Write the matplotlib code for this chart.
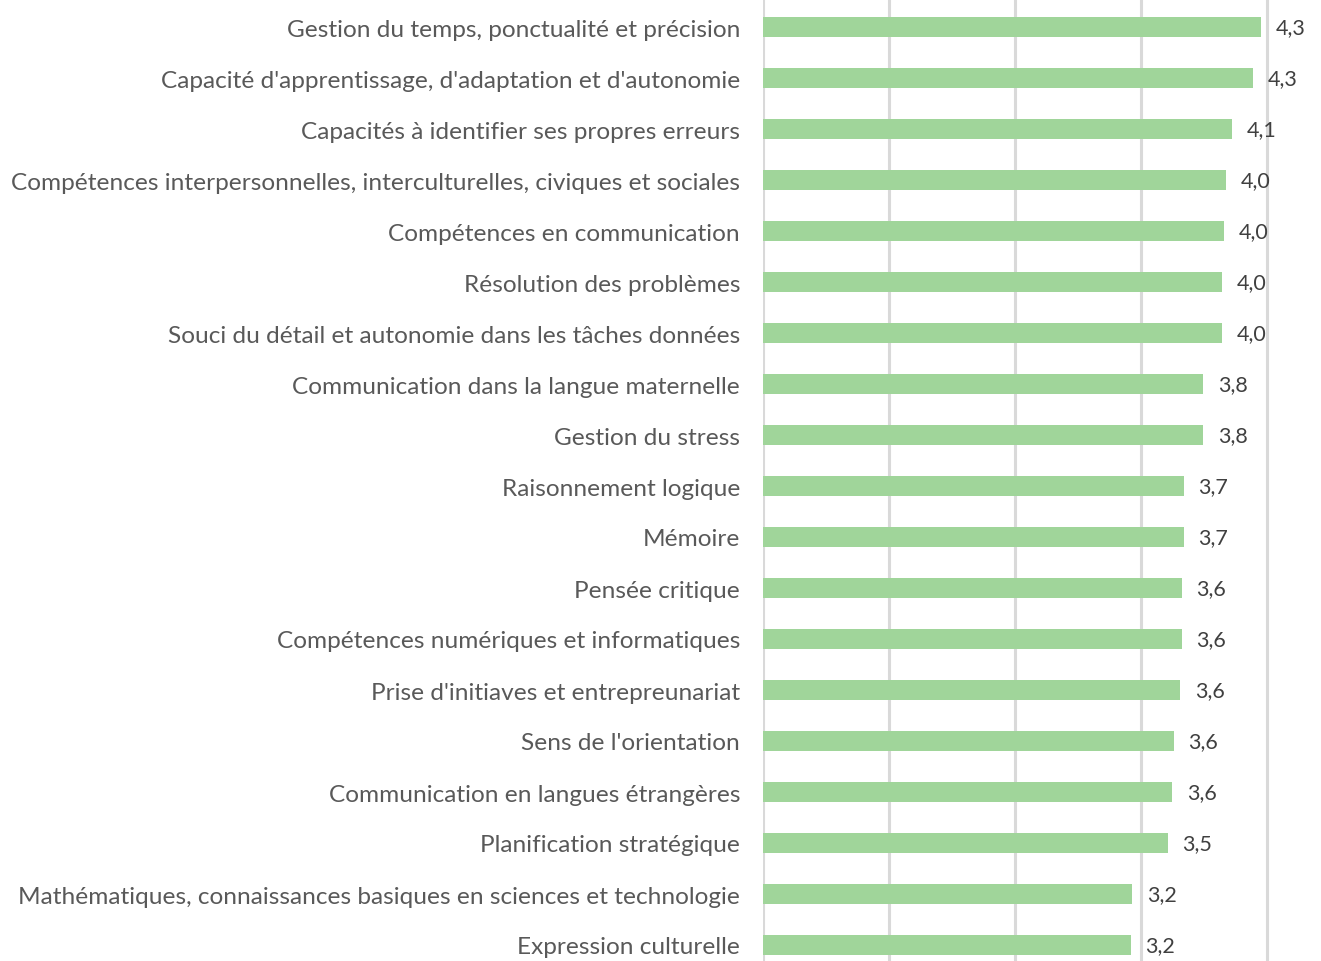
import matplotlib
matplotlib.use("Agg")
import matplotlib.pyplot as plt
import numpy as np

# data (bar lengths, labels shown rounded to 1 decimal)
categories = [
    "Gestion du temps, ponctualité et précision",
    "Capacité d'apprentissage, d'adaptation et d'autonomie",
    "Capacités à identifier ses propres erreurs",
    "Compétences interpersonnelles, interculturelles, civiques et sociales",
    "Compétences en communication",
    "Résolution des problèmes",
    "Souci du détail et autonomie dans les tâches données",
    "Communication dans la langue maternelle",
    "Gestion du stress",
    "Raisonnement logique",
    "Mémoire",
    "Pensée critique",
    "Compétences numériques et informatiques",
    "Prise d'initiaves et entrepreunariat",
    "Sens de l'orientation",
    "Communication en langues étrangères",
    "Planification stratégique",
    "Mathématiques, connaissances basiques en sciences et technologie",
    "Expression culturelle",
]
scores = [4.33, 4.26, 4.08, 4.03, 4.01, 3.99, 3.99, 3.83, 3.83, 3.66,
          3.66, 3.64, 3.64, 3.63, 3.57, 3.56, 3.52, 3.21, 3.20]

plt.rcParams['font.family'] = ['Lato', 'DejaVu Sans']

W, H = 1321, 962
fig = plt.figure(figsize=(W / 100, H / 100), dpi=100)
ax = fig.add_axes([763 / W, 0, 1 - 763 / W, 1])

y = np.arange(len(categories))
ax.barh(y, scores, height=0.41, color="#a0d59a", zorder=2)

px_per_unit = 115.0
ax.set_xlim(0, (W - 763) / px_per_unit)
ax.set_ylim(18 + 16 / 51, -28 / 51)

# vertical grid lines every 126 px
grid = np.arange(5) * 126 / px_per_unit
for g in grid:
    ax.axvline(g, color="#d9d9d9", lw=2.2, zorder=1)

ax.set_xticks([])
ax.set_yticks(y)
ax.set_yticklabels(categories, fontsize=17.6, color="#595959")
ax.tick_params(axis="y", length=0, pad=16.5)
for s in ax.spines.values():
    s.set_visible(False)

for yi, v in zip(y, scores):
    ax.annotate(f"{v:.1f}".replace(".", ","), (v, yi), xytext=(10.5, 0),
                textcoords="offset points", va="center", ha="left",
                fontsize=15.5, color="#404040")

fig.savefig("out.png", dpi=100)
